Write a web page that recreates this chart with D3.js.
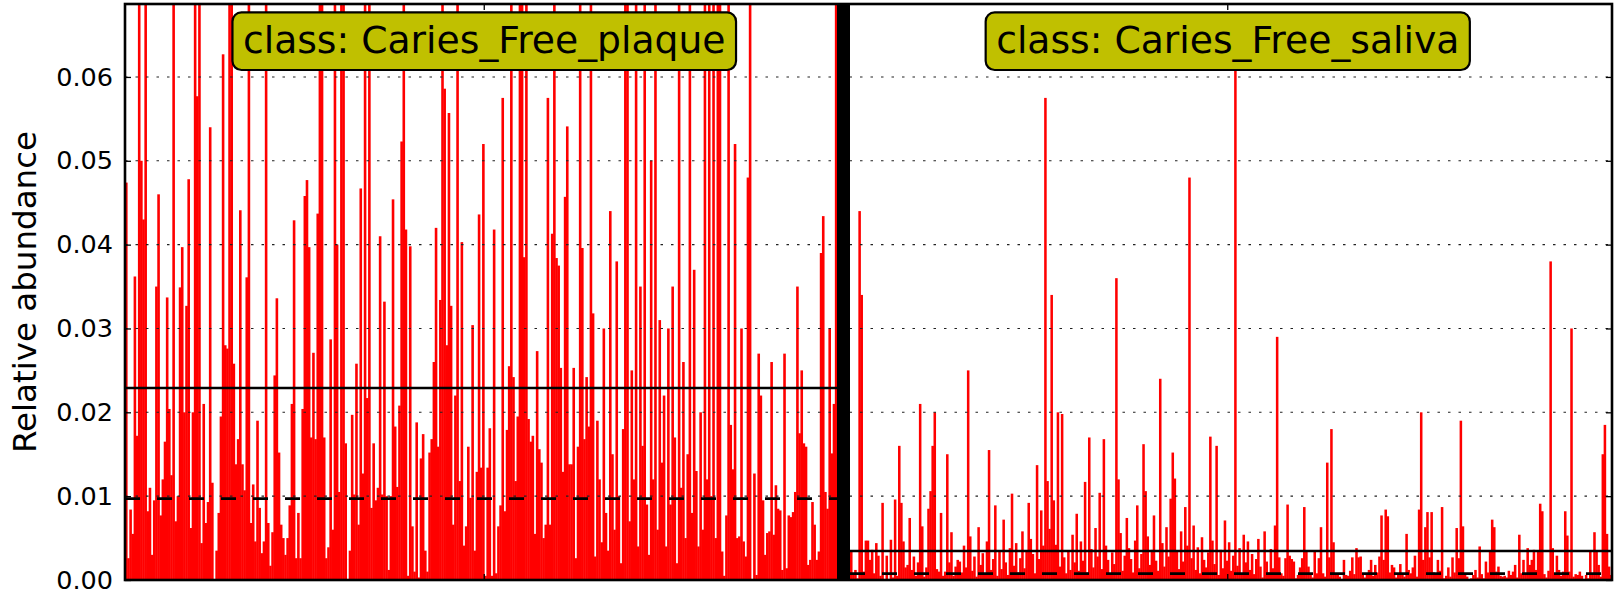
<!DOCTYPE html>
<html><head><meta charset="utf-8">
<script src="https://cdn.jsdelivr.net/npm/d3@7"></script>
<style>
html,body{margin:0;padding:0;background:#fff;}
svg{display:block;font-family:"DejaVu Sans",sans-serif;}
</style></head><body>
<svg id="chart" width="1614" height="593"></svg>
<script>
// ---- data ----
const classNames = ["Caries_Free_plaque", "Caries_Free_saliva"];
const yTicks = [0.00, 0.01, 0.02, 0.03, 0.04, 0.05, 0.06];
const yTickLabels = ["0.00", "0.01", "0.02", "0.03", "0.04", "0.05", "0.06"];
const yMax = 0.0687;
const classMeans = [0.0229, 0.00346];
const classMedians = [0.0097, 0.00075];
const yLabel = "Relative abundance";

const plaqueValues = [
.0474,.0026,.0084,.0055,.0362,.0172,.09,.050,.043,.09,.0082,.011,.003,.0095,.035,.046,.0077,.012,.0165,.0337,
.0204,.0125,.09,.007,.010,.0349,.0397,.020,.0327,.0478,.0062,.020,.09,.0577,.09,.0044,.021,.0068,.0093,.054,
.0116,0,.0035,.008,.0195,.0627,.028,.0276,.09,.09,.0258,.0138,.0168,.0441,.0138,.0107,.0361,.09,.0068,.0114,
.0046,.019,.0086,.0032,.0046,.09,.0068,.0017,.0057,.0244,.0336,.0152,.0066,.005,.003,.005,.0089,.021,.0429,.0026,
.008,.0026,.0204,.0458,.0477,.0397,.017,.0271,.0168,.0437,.09,.09,.017,.0026,.0039,.0287,.006,.09,.040,.0105,
.09,.09,.0163,0,.0035,.0197,.0102,.0258,.0066,.0467,.0127,.09,
.0217,.09,.0086,.0163,.0095,.011,.041,.0102,.0332,.010,.0012,.010,.0454,.0183,.0111,.0208,.0523,.09,.0418,.0005,
.0398,.0064,.001,.0188,.0003,.0145,.0174,.0035,.001,.0152,.0168,.026,.042,.0159,.0334,.09,.0586,.028,.0557,.0327,
.0066,.022,.09,.0118,.0403,.0041,.0064,.0159,.0098,.0304,.0035,.0129,.0436,.0134,.052,.0005,.0134,.0181,.0005,.0418,
.0008,.0064,.0089,.0575,.0082,.0179,.0255,.09,.0242,.0118,.0195,.09,.09,.0385,.09,.0192,.0165,.0172,.0055,.0273,
.0156,.014,.005,.0066,.0575,.0066,.0413,.09,.0384,.0375,.0253,.0129,.0457,.0541,.0138,.0138,.0253,.0026,.0159,.09,
.0396,.0168,.0242,.0183,.09,.0318,.0028,.019,
.012,.0045,.030,.008,.0035,.044,.015,.006,.038,.010,.002,.018,.09,.09,.007,.025,.012,.09,.004,.035,
.016,.09,.009,.003,.050,.012,.09,.006,.031,.014,.022,.004,.030,.009,.035,.017,.002,.09,.011,.026,
.005,.015,.09,.008,.037,.013,.004,.020,.006,.09,.012,.09,.010,.09,.005,.09,
.09,.0034,.0005,.0077,.09,.0185,.0132,.052,.005,.0052,.030,.0046,.0028,.048,.09,0,.0127,.0006,.027,.022,
.0095,.003,.0056,.0058,.026,.0054,.0113,.0085,.0083,.0012,.027,.0014,.0077,.0075,.0081,.0105,.035,.0175,.025,.0163,
.0159,.0018,.0024,.0093,.0066,.0024,.0034,.039,.0434,.0105,.0085,.030,.0151,.021,.09
];

const salivaValues = [
.0034,.0008,.0012,.0002,.044,.034,.001,.0047,.0047,.0024,.0036,.0008,.0044,.0029,.0005,.0092,0,.0029,0,.0048,
.0003,.0096,.0005,.016,.0092,.0046,.0015,.0018,.0074,.0012,.0028,.0005,.0021,.021,.0064,.0004,.0015,.0085,.0106,.016,
.020,.0013,.001,.008,.0005,.001,.015,.0021,.0057,.0005,.0016,.0024,
.0022,.0009,.0041,.0015,.025,.0052,.0011,.0028,.0004,.0063,.0018,.0032,.0007,.0046,.0155,.0012,.0025,.0089,.0005,.0034,
.0013,.0072,.0021,.0006,.0038,.0103,.0017,.0044,.0009,.0026,.0058,.0014,.0035,.0092,.0049,.0031,.0008,.0137,.0025,.0083,
.0041,.0575,.0118,.0061,.034,.0095,.0042,.020,.0016,.0198,.0027,.0008,.0035,.0012,.0054,.0021,.0079,.0011,.0046,.0023,
.0117,.0009,.017,.0037,.0015,.0062,.0028,.0104,.0013,.0168,.0041,.0024,.0007,.0033,.0019,.036,.012,.0056,.0011,.0029,
.0074,.0038,.0025,.0009,.0047,.0089,.0014,.0031,.0162,.0106,.0052,.0018,.0036,.0077,.0023,.0011,.024,.0044,.0016,.0063,
.0028,.0097,.0152,.0121,.0034,.0013,.0058,.0022,.0087,.0041,.048,.0026,.0065,.0012,.0039,.0008,.0051,.0024,.0015,.0033,
.0171,.0047,.0019,.016,.0006,.0036,.0014,.0071,.0023,.0045,.0011,.0029,.061,.0017,.0038,.0008,.0054,.0021,.0046,.0012,
.0031,.0007,.0025,.0049,.0016,.0003,.0058,.0022,.0009,.0037,.0014,.0065,.029,.0027,
.0008,.0005,.0026,.009,.0029,.0025,.0022,.0002,.0006,.0015,.0026,.0087,.0034,.0016,.0008,.0003,.0034,.0008,.0026,.0063,
.0008,.0004,.014,.0027,.018,.0045,.0008,.0007,.0004,.0001,.0024,.0006,.0005,.0011,.0027,.0007,.0038,.0027,.0028,.0008,
.0003,.0007,.0012,.0024,.0005,.0018,.0009,.0028,.0077,.0024,.0084,.0076,.0009,.0018,.0015,.0003,.0007,.0019,.0006,.0004,
.0055,.0012,.0008,.0015,.0029,.0004,.0084,.020,.0024,.0063,.0081,.0027,.0081,.0009,.0006,.0024,.0011,.0087,.0002,.0005,
.0015,.0004,.0027,.0009,.0062,.0026,.019,.0064,.0006,.0004,.0001,.0002,.0006,.0012,.0003,.004,.0007,.0002,.0022,.0009,
.0035,.0072,.0063,.001,.0016,.0005,.0004,.0005,.0003,.0011,.0006,.001,.0018,.0003,.0054,.0008,.0024,.0006,.0038,.0018,
.0024,.0036,.0012,.0035,.0091,.0082,.0007,.0003,.0011,.038,.0038,.0007,.0029,.0012,.0005,.001,.0082,.0053,.001,.030,
.0004,.0007,.0006,.001,.0005,.0001,.0006,.0002,.0034,.0008,.0057,.0034,.0018,.0004,.015,.0185,.0055,.0016,.0006
];

// ---- layout ----
const svg = d3.select("#chart");
const plotL = 125, plotR = 1612, plotT = 4, plotB = 580;
const divL = 837, divR = 850;           // thick class separator
const sepMid = (divL + divR) / 2;

const y = d3.scaleLinear().domain([0, yMax]).range([plotB, plotT]);
const xL = d3.scaleBand().domain(d3.range(plaqueValues.length)).range([plotL, divL]).padding(0);
const xR = d3.scaleBand().domain(d3.range(salivaValues.length)).range([divR, plotR]).padding(0);

const panels = [
  {name: classNames[0], values: plaqueValues, x: xL, x0: plotL, x1: divL, cx: (plotL + sepMid) / 2, mean: classMeans[0], median: classMedians[0]},
  {name: classNames[1], values: salivaValues, x: xR, x0: divR, x1: plotR, cx: (sepMid + plotR) / 2, mean: classMeans[1], median: classMedians[1]}
];

svg.append("defs").append("clipPath").attr("id", "plotclip")
  .append("rect").attr("x", plotL).attr("y", plotT).attr("width", plotR - plotL).attr("height", plotB - plotT);

const barsG = svg.append("g").attr("clip-path", "url(#plotclip)");
panels.forEach(p => {
  barsG.append("g").selectAll("rect").data(p.values).join("rect")
    .attr("x", (d, i) => p.x(i))
    .attr("width", p.x.bandwidth() + 0.45)
    .attr("y", d => y(d))
    .attr("height", d => plotB - y(d))
    .attr("fill", "#ff0000");
});

// dotted grid
svg.append("g").selectAll("line").data(yTicks.filter(t => t > 0)).join("line")
  .attr("x1", plotL).attr("x2", plotR)
  .attr("y1", d => y(d)).attr("y2", d => y(d))
  .attr("stroke", "#222").attr("stroke-width", 1.1).attr("stroke-dasharray", "2.5,8");

// mean (solid) and median (dashed) lines per class
panels.forEach(p => {
  svg.append("line").attr("x1", p.x0).attr("x2", p.x1)
    .attr("y1", y(p.mean)).attr("y2", y(p.mean))
    .attr("stroke", "#000").attr("stroke-width", 2.5);
  svg.append("line").attr("x1", p.x0).attr("x2", p.x1)
    .attr("y1", y(p.median)).attr("y2", y(p.median))
    .attr("stroke", "#000").attr("stroke-width", 2.8).attr("stroke-dasharray", "15,17");
});

// class separator
svg.append("rect").attr("x", divL).attr("y", plotT).attr("width", divR - divL).attr("height", plotB - plotT).attr("fill", "#000");

// frame
svg.append("rect").attr("x", plotL).attr("y", plotT).attr("width", plotR - plotL).attr("height", plotB - plotT)
  .attr("fill", "none").attr("stroke", "#000").attr("stroke-width", 2.6);

// y axis (left) with inward ticks, and mirrored ticks on right
const yAxisL = d3.axisLeft(y).tickValues(yTicks).tickFormat((d, i) => yTickLabels[i]).tickSizeInner(-6).tickSizeOuter(0).tickPadding(12);
const gyL = svg.append("g").attr("transform", `translate(${plotL},0)`).call(yAxisL);
gyL.select(".domain").remove();
gyL.selectAll(".tick line").attr("stroke", "#000").attr("stroke-width", 1.3);
gyL.selectAll(".tick text").attr("font-size", 25.5).attr("font-family", "DejaVu Sans").attr("fill", "#000");

const yAxisR = d3.axisRight(y).tickValues(yTicks).tickFormat("").tickSizeInner(-6).tickSizeOuter(0);
const gyR = svg.append("g").attr("transform", `translate(${plotR},0)`).call(yAxisR);
gyR.select(".domain").remove();
gyR.selectAll(".tick line").attr("stroke", "#000").attr("stroke-width", 1.3);

// x ticks at class centres (top and bottom, inward)
panels.forEach(p => {
  svg.append("line").attr("x1", p.cx).attr("x2", p.cx).attr("y1", plotB).attr("y2", plotB - 6).attr("stroke", "#000").attr("stroke-width", 1.3);
  svg.append("line").attr("x1", p.cx).attr("x2", p.cx).attr("y1", plotT).attr("y2", plotT + 6).attr("stroke", "#000").attr("stroke-width", 1.3);
});

// y label
svg.append("text").attr("transform", `translate(25,${(plotT + plotB) / 2}) rotate(-90)`)
  .attr("text-anchor", "middle").attr("dominant-baseline", "central")
  .attr("font-size", 32.5).attr("fill", "#000").text(yLabel);

// class label boxes
panels.forEach(p => {
  const g = svg.append("g");
  const t = g.append("text").attr("x", p.cx).attr("y", 53).attr("text-anchor", "middle")
    .attr("font-size", 37.7).attr("fill", "#000").text("class: " + p.name);
  const w = t.node().getComputedTextLength();
  g.insert("rect", "text").attr("x", p.cx - w / 2 - 10.5).attr("y", 12.4).attr("width", w + 21).attr("height", 57.6)
    .attr("rx", 9).attr("ry", 9).attr("fill", "#c0c000").attr("stroke", "#000").attr("stroke-width", 2.2);
});
</script>
</body></html>
